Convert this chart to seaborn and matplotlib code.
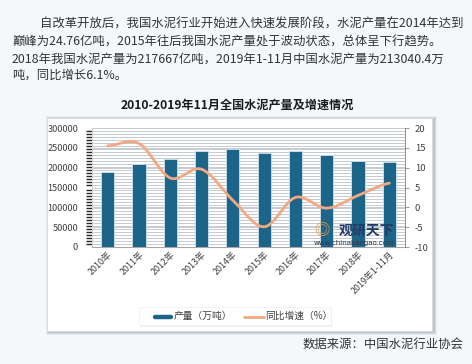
import numpy as np
import pandas as pd
import matplotlib
matplotlib.use("Agg")
import matplotlib.pyplot as plt
import seaborn as sns
from matplotlib.patches import Rectangle
from matplotlib.lines import Line2D
from matplotlib.ticker import MultipleLocator

# ---- data ----
categories = ["2010年", "2011年", "2012年", "2013年", "2014年", "2015年",
              "2016年", "2017年", "2018年", "2019年1-11月"]
output_wt = [188191, 209926, 220984, 241440, 247619, 235919, 241031, 233084, 217667, 213040.4]
growth_pct = [15.5, 16.1, 7.4, 9.6, 1.8, -4.9, 2.5, -0.2, 3.0, 6.1]
left_ticks = [0, 50000, 100000, 150000, 200000, 250000, 300000]
right_ticks = [-10, -5, 0, 5, 10, 15, 20]

title = "2010-2019年11月全国水泥产量及增速情况"
legend_bar = "产量（万吨）"
legend_line = "同比增速（%）"
source = "数据来源：中国水泥行业协会"
para = ["自改革开放后，我国水泥行业开始进入快速发展阶段，水泥产量在2014年达到",
        "巅峰为24.76亿吨，2015年往后我国水泥产量处于波动状态，总体呈下行趋势。",
        "2018年我国水泥产量为217667亿吨，2019年1-11月中国水泥产量为213040.4万",
        "吨，同比增长6.1%。"]

sns.set_theme(style="white")
plt.rcParams['font.family'] = ['Noto Sans CJK SC', 'DejaVu Sans']
plt.rcParams['axes.unicode_minus'] = False

BAR = "#1d6588"
LINE = "#f2a982"
BG = "#f5f8fb"
TXT = "#333333"

fig = plt.figure(figsize=(4.72, 3.64), dpi=100)
fig.patch.set_facecolor(BG)

# paragraph
ys = [24, 42, 59, 75]
xs = [40, 12, 12, 12]
for t, x, y in zip(para, xs, ys):
    fig.text(x / 472, 1 - y / 364, t, fontsize=8.9, color=TXT, va="center", ha="left")

fig.text(237 / 472, 1 - 106 / 364, title, fontsize=8.7, fontweight="bold",
         color="#1a1a1a", ha="center", va="center")

# panel with shadow
px0, py0, px1, py1 = 47, 118, 432, 331
for i, a in enumerate([0.05, 0.07, 0.10]):
    off = 3 - i
    fig.patches.append(Rectangle(((px0 - off + 2) / 472, 1 - (py1 + off + 1) / 364),
                                 (px1 - px0 + 2 * off) / 472, (py1 - py0 + 2 * off) / 364,
                                 transform=fig.transFigure, facecolor="#000000",
                                 alpha=a, edgecolor="none", zorder=0))
fig.patches.append(Rectangle((px0 / 472, 1 - py1 / 364), (px1 - px0) / 472, (py1 - py0) / 364,
                             transform=fig.transFigure, facecolor="white",
                             edgecolor="#d8d8d8", linewidth=0.6, zorder=1))

ax = fig.add_axes([92 / 472, 1 - 247 / 364, (405 - 92) / 472, (247 - 128) / 364])
ax.set_zorder(2)
ax.set_facecolor("white")

df = pd.DataFrame({"cat": categories, "val": output_wt})
sns.barplot(data=df, x="cat", y="val", ax=ax, color=BAR, width=0.42,
            edgecolor="#cfe0ea", linewidth=0.6, saturation=1, zorder=3)
ax.set_ylim(0, 300000)
ax.set_xlim(-0.5, len(categories) - 0.5)
ax.set_yticks(left_ticks)
ax.set_yticklabels([str(v) for v in left_ticks], fontsize=6.6, color="#404040")
ax.yaxis.set_minor_locator(MultipleLocator(7500))
ax.grid(which="minor", axis="y", color="#bcc2cb", linewidth=0.6)
ax.grid(which="major", axis="y", color="#bcc2cb", linewidth=0.6)
ax.set_axisbelow(True)
ax.set_xlabel("")
ax.set_ylabel("")
ax.tick_params(axis="y", length=0, pad=10)
ax.tick_params(axis="x", length=0, pad=2)
ax.set_xticks(range(len(categories)))
ax.set_xticklabels(categories, rotation=45, ha="right", rotation_mode="anchor",
                   fontsize=6.4, color="#404040")
for s in ["top", "right"]:
    ax.spines[s].set_visible(False)
ax.spines["left"].set_color("#d0d0d0")
ax.spines["left"].set_linewidth(0.8)
ax.spines["bottom"].set_color("#a8a8a8")
ax.spines["bottom"].set_linewidth(0.8)

# smoothed growth line (Catmull-Rom through the data points)
ax2 = ax.twinx()
xp = np.arange(len(growth_pct), dtype=float)
yp = np.array(growth_pct, dtype=float)
sx, sy = [], []
n = len(xp)
for i in range(n - 1):
    p0 = yp[max(i - 1, 0)]; p1 = yp[i]; p2 = yp[i + 1]; p3 = yp[min(i + 2, n - 1)]
    t = np.linspace(0, 1, 25)
    yy = 0.5 * ((2 * p1) + (-p0 + p2) * t + (2 * p0 - 5 * p1 + 4 * p2 - p3) * t ** 2
                + (-p0 + 3 * p1 - 3 * p2 + p3) * t ** 3)
    sx.extend(xp[i] + t)
    sy.extend(yy)
sns.lineplot(x=sx, y=sy, ax=ax2, color=LINE, linewidth=2.0, sort=False, zorder=4)
ax2.set_ylim(-10, 20)
ax2.set_yticks(right_ticks)
ax2.set_yticklabels([str(v) for v in right_ticks], fontsize=6.8, color="#404040")
ax2.tick_params(axis="y", length=3, width=0.6, color="#8a8a8a", direction="out", pad=4)
for s in ["top", "left", "bottom"]:
    ax2.spines[s].set_visible(False)
ax2.spines["right"].set_color("#8a8a8a")
ax2.spines["right"].set_linewidth(0.7)
ax2.grid(False)

# watermark
fig.text(367 / 472, 1 - 231 / 364, "观研天下", fontsize=10, color="#1f3b66",
         fontweight="bold", ha="center", va="center", zorder=10)
fig.text(322 / 472, 1 - 231 / 364, "◎", fontsize=11, color="#e49a3c",
         ha="center", va="center", zorder=10)
fig.text(354 / 472, 1 - 243 / 364, "www.chinabaogao.com", fontsize=5, color="#2a3a4a",
         ha="center", va="center", zorder=10, family="DejaVu Sans")

# legend
lx0, ly0, lx1, ly1 = 139, 307, 331, 325
fig.patches.append(Rectangle(((lx0 + 1) / 472, 1 - (ly1 + 2) / 364), (lx1 - lx0) / 472, (ly1 - ly0) / 364,
                             transform=fig.transFigure, facecolor="#000000", alpha=0.06,
                             edgecolor="none", zorder=5))
fig.patches.append(Rectangle((lx0 / 472, 1 - ly1 / 364), (lx1 - lx0) / 472, (ly1 - ly0) / 364,
                             transform=fig.transFigure, facecolor="white",
                             edgecolor="#eeeeee", linewidth=0.5, zorder=6))
fig.add_artist(Line2D([155 / 472, 171 / 472], [1 - 317 / 364] * 2, color=BAR, linewidth=3.2,
                      transform=fig.transFigure, zorder=7))
fig.text(174 / 472, 1 - 316 / 364, legend_bar, fontsize=7, color="#404040", va="center", zorder=8)
fig.add_artist(Line2D([244 / 472, 264 / 472], [1 - 317 / 364] * 2, color=LINE, linewidth=2.0,
                      transform=fig.transFigure, zorder=7))
fig.text(265 / 472, 1 - 316 / 364, legend_line, fontsize=7, color="#404040", va="center", zorder=8)

fig.text(463 / 472, 1 - 344 / 364, source, fontsize=8.9, color=TXT, ha="right", va="center")

fig.savefig("out.png", dpi=100, facecolor=BG)
